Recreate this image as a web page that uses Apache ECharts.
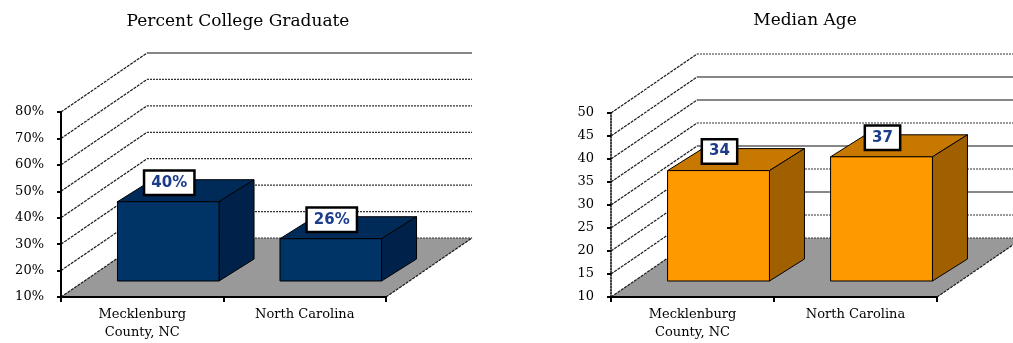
<!DOCTYPE html>
<html><head><meta charset="utf-8">
<script src="https://cdn.jsdelivr.net/npm/echarts@6/dist/echarts.min.js"></script>
<style>html,body{margin:0;padding:0;background:#fff}#c{width:1013px;height:343px}</style>
</head><body><div id="c"></div>
<script>
// ---- data ----
const categories = ['Mecklenburg\nCounty, NC', 'North Carolina'];
const collegeGradPct = [40, 26];
const medianAge = [34, 37];
const pctTicks = [10, 20, 30, 40, 50, 60, 70, 80];
const ageTicks = [10, 15, 20, 25, 30, 35, 40, 45, 50];
const titles = ['Percent College Graduate', 'Median Age'];

// ---- 3D look (style) ----
const DX = 86, DY = -59;   // depth of chart box
const FX = 26, FY = -16;   // bar front-face offset inside box
const BX = 35, BY = -22;   // bar depth
const BAR_FRAC = 0.625;
const SERIF = '"DejaVu Serif", "Liberation Serif", serif';
const navy = {front: '#003366', top: '#002a58', side: '#00214a'};
const orange = {front: '#ff9900', top: '#c77800', side: '#a06000'};
const solidBackLines = [[80], [45, 40, 30, 20]];

function wallRender(solidVals) {
  return function (params, api) {
    const cs = params.coordSys;
    const xa = cs.x, xb = cs.x + cs.width, yb = cs.y + cs.height;
    const v = api.value(0);
    const y = api.coord([0, v])[1];
    const dash = {stroke: '#1a1a1a', lineWidth: 1.2, lineDash: [3, 1], fill: null};
    const children = [];
    if (params.dataIndex === 0) {
      children.push({type: 'polygon', shape: {points: [[xa, yb], [xb, yb], [xb + DX, yb + DY], [xa + DX, yb + DY]]}, style: {fill: '#999999'}});
      children.push({type: 'line', shape: {x1: xb, y1: yb, x2: xb + DX, y2: yb + DY}, style: dash});
    }
    children.push({type: 'line', shape: {x1: xa, y1: y, x2: xa + DX, y2: y + DY}, style: dash});
    const solid = solidVals.indexOf(v) >= 0;
    children.push({type: 'line', shape: {x1: xa + DX, y1: y + DY, x2: xb + DX, y2: y + DY},
      style: solid ? {stroke: '#111', lineWidth: 1.2, fill: null} : {stroke: '#333', lineWidth: 1.2, lineDash: [2, 1], fill: null}});
    return {type: 'group', children: children};
  };
}

function barRender(color, yMin, fmt) {
  return function (params, api) {
    const ci = api.value(0), v = api.value(1);
    const top = api.coord([ci, v]);
    const bot = api.coord([ci, yMin]);
    const w = api.size([1, 0])[0] * BAR_FRAC;
    const l = top[0] + FX - w / 2, r = l + w, t = top[1] + FY, b = bot[1] + FY;
    const st = {stroke: '#000', lineWidth: 1, lineJoin: 'round'};
    return {type: 'group', children: [
      {type: 'polygon', shape: {points: [[l, t], [r, t], [r + BX, t + BY], [l + BX, t + BY]]}, style: Object.assign({fill: color.top}, st)},
      {type: 'polygon', shape: {points: [[r, t], [r + BX, t + BY], [r + BX, b + BY], [r, b]]}, style: Object.assign({fill: color.side}, st)},
      {type: 'rect', shape: {x: l, y: t, width: w, height: b - t}, style: Object.assign({fill: color.front}, st)},
      {type: 'text', x: (l + r) / 2 + 1, y: t - 19, z2: 10,
        style: {text: fmt(v), align: 'center', verticalAlign: 'middle', font: 'bold 15px "DejaVu Sans", sans-serif',
          fill: '#1c3c8c', backgroundColor: '#fff', borderColor: '#000', borderWidth: 2.5, padding: [4, 6, 3, 6]}}
    ]};
  };
}

const grids = [
  {left: 61, top: 112, width: 325, height: 185, outerBoundsMode: 'none', containLabel: false},
  {left: 611, top: 113, width: 326, height: 184, outerBoundsMode: 'none', containLabel: false}
];

function xAxis(i) {
  return {gridIndex: i, type: 'category', data: categories, z: 10,
    axisLine: {lineStyle: {color: '#000', width: 2}},
    axisTick: {show: true, length: 5, lineStyle: {color: '#000', width: 2}},
    axisLabel: {color: '#000', fontFamily: SERIF, fontSize: 13, lineHeight: 18, margin: 9, interval: 0}};
}
function yAxis(i, ticks, fmt, lineType) {
  return {gridIndex: i, type: 'value', min: ticks[0], max: ticks[ticks.length - 1], interval: ticks[1] - ticks[0], z: 10,
    splitLine: {show: false},
    axisLine: {show: true, lineStyle: {color: '#000', width: lineType === 'solid' ? 2 : 1.5, type: lineType}},
    axisTick: {show: true, length: 4, lineStyle: {color: '#000', width: 2}},
    axisLabel: {color: '#000', fontFamily: SERIF, fontSize: 13, margin: 17, formatter: fmt}};
}

const option = {
  animation: false,
  backgroundColor: '#fff',
  grid: grids,
  xAxis: [xAxis(0), xAxis(1)],
  yAxis: [yAxis(0, pctTicks, '{value}%', 'solid'), yAxis(1, ageTicks, '{value}', 'dotted')],
  graphic: [
    {type: 'text', x: 238, y: 22, style: {text: titles[0], align: 'center', verticalAlign: 'middle', font: '17px ' + SERIF, fill: '#000'}},
    {type: 'text', x: 805, y: 21, style: {text: titles[1], align: 'center', verticalAlign: 'middle', font: '17px ' + SERIF, fill: '#000'}}
  ],
  series: [
    {type: 'custom', xAxisIndex: 0, yAxisIndex: 0, z: 1, silent: true, renderItem: wallRender(solidBackLines[0]),
      data: pctTicks.map(v => [v])},
    {type: 'custom', xAxisIndex: 1, yAxisIndex: 1, z: 1, silent: true, renderItem: wallRender(solidBackLines[1]),
      data: ageTicks.map(v => [v])},
    {type: 'custom', xAxisIndex: 0, yAxisIndex: 0, z: 3, renderItem: barRender(navy, pctTicks[0], v => v + '%'),
      data: collegeGradPct.map((v, i) => [i, v])},
    {type: 'custom', xAxisIndex: 1, yAxisIndex: 1, z: 3, renderItem: barRender(orange, ageTicks[0], v => String(v)),
      data: medianAge.map((v, i) => [i, v])}
  ]
};
const chart = echarts.init(document.getElementById('c'), null, {renderer: 'canvas'});
chart.setOption(option);
</script>
</body></html>
